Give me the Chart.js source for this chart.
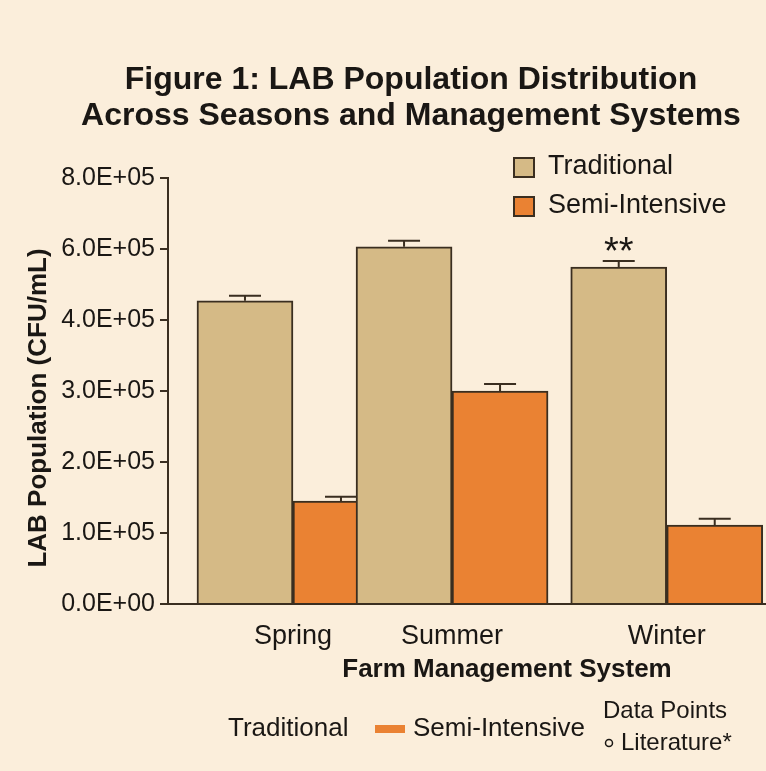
<!DOCTYPE html>
<html>
<head>
<meta charset="utf-8">
<script src="https://cdn.jsdelivr.net/npm/chart.js@4.4.1/dist/chart.umd.min.js"></script>
<style>
  html, body { margin: 0; padding: 0; background: #fbeedb; }
  canvas { display: block; }
</style>
</head>
<body>
<canvas id="labChart" width="766" height="771"></canvas>
<script>
const seasons = ['Spring', 'Summer', 'Winter'];
const traditional = [4.54e5, 6.06e5, 5.49e5];
const traditionalErr = [1.4e4, 1.7e4, 1.7e4];
const semiIntensive = [1.45e5, 3.00e5, 1.11e5];
const semiIntensiveErr = [6e3, 1.0e4, 9e3];
const traditionalMarks = ['', '', '**'];

// the source axis is unevenly labelled: equal steps carry these values
const tickValues = [0, 1e5, 2e5, 3e5, 4e5, 6e5, 8e5];
const tickLabels = ['0.0E+00', '1.0E+05', '2.0E+05', '3.0E+05', '4.0E+05', '6.0E+05', '8.0E+05'];

// layout: where each season group sits on a 0-10 x axis, spaced as in the source
const groupPos = [2.09, 4.75, 8.34];

const BG = '#fbeedb';
const TAN = '#d5ba86';
const ORANGE = '#ea8233';
const EDGE = '#3a2e20';
const INK = '#1a1714';
const FONT = '"Liberation Sans", Arial, sans-serif';

// value -> position on the step axis
function toAxis(v) {
    for (let i = 0; i < tickValues.length - 1; i++) {
        if (v <= tickValues[i + 1]) {
            return i + (v - tickValues[i]) / (tickValues[i + 1] - tickValues[i]);
        }
    }
    return tickValues.length - 1;
}

function barData(values) {
    return values.map((v, i) => ({ x: groupPos[i], y: toAxis(v) }));
}

const errorBars = {
    id: 'errorBars',
    afterDatasetsDraw(chart) {
        const ctx = chart.ctx;
        const yScale = chart.scales.y;
        chart.data.datasets.forEach((ds, di) => {
            chart.getDatasetMeta(di).data.forEach((bar, i) => {
                const top = yScale.getPixelForValue(toAxis(ds.values[i] + ds.errors[i]));
                ctx.save();
                ctx.strokeStyle = EDGE;
                ctx.lineWidth = 2;
                ctx.beginPath();
                ctx.moveTo(bar.x, bar.y);
                ctx.lineTo(bar.x, top);
                ctx.moveTo(bar.x - 16, top);
                ctx.lineTo(bar.x + 16, top);
                ctx.stroke();
                if (ds.marks && ds.marks[i]) {
                    ctx.fillStyle = INK;
                    ctx.font = '38px ' + FONT;
                    ctx.textAlign = 'center';
                    ctx.textBaseline = 'alphabetic';
                    ctx.fillText(ds.marks[i], bar.x, top + 3);
                }
                ctx.restore();
            });
        });
    }
};

function text(ctx, str, x, y, size, bold, align) {
    ctx.font = (bold ? 'bold ' : '') + size + 'px ' + FONT;
    ctx.textAlign = align || 'left';
    ctx.textBaseline = 'middle';
    ctx.fillText(str, x, y);
}

const decorations = {
    id: 'decorations',
    beforeDraw(chart) {
        const ctx = chart.ctx;
        ctx.save();
        ctx.fillStyle = BG;
        ctx.fillRect(0, 0, chart.width, chart.height);
        ctx.restore();
    },
    afterDraw(chart) {
        const ctx = chart.ctx;
        const sets = chart.data.datasets;
        ctx.save();
        ctx.fillStyle = INK;

        // title
        text(ctx, 'Figure 1: LAB Population Distribution', 411, 80, 32, true, 'center');
        text(ctx, 'Across Seasons and Management Systems', 411, 116, 32, true, 'center');

        // axis titles
        text(ctx, 'Farm Management System', 507, 670, 26, true, 'center');
        ctx.save();
        ctx.translate(39, 408);
        ctx.rotate(-Math.PI / 2);
        text(ctx, 'LAB Population (CFU/mL)', 0, 0, 26, true, 'center');
        ctx.restore();

        // legend inside the plot
        sets.forEach((ds, i) => {
            const y = 167 + i * 39;
            ctx.fillStyle = ds.backgroundColor;
            ctx.fillRect(514, y - 9, 20, 19);
            ctx.strokeStyle = EDGE;
            ctx.lineWidth = 2;
            ctx.strokeRect(514, y - 9, 20, 19);
            ctx.fillStyle = INK;
            text(ctx, ds.label, 548, y, 27, false);
        });

        // second legend under the axis title
        ctx.fillStyle = INK;
        text(ctx, sets[0].label, 228, 729, 26, false);
        ctx.fillStyle = sets[1].backgroundColor;
        ctx.fillRect(375, 725, 30, 8);
        ctx.fillStyle = INK;
        text(ctx, sets[1].label, 413, 729, 26, false);
        text(ctx, 'Data Points', 603, 711, 24, false);
        ctx.strokeStyle = INK;
        ctx.lineWidth = 1.5;
        ctx.beginPath();
        ctx.arc(609, 743, 3.5, 0, Math.PI * 2);
        ctx.stroke();
        text(ctx, 'Literature*', 621, 743, 24, false);
        ctx.restore();
    }
};

new Chart(document.getElementById('labChart'), {
    type: 'bar',
    data: {
        datasets: [
            {
                label: 'Traditional',
                data: barData(traditional),
                values: traditional,
                errors: traditionalErr,
                marks: traditionalMarks,
                backgroundColor: TAN,
                borderColor: EDGE,
                borderWidth: 2,
                barThickness: 96
            },
            {
                label: 'Semi-Intensive',
                data: barData(semiIntensive),
                values: semiIntensive,
                errors: semiIntensiveErr,
                backgroundColor: ORANGE,
                borderColor: EDGE,
                borderWidth: 2,
                barThickness: 96
            }
        ]
    },
    options: {
        responsive: false,
        animation: false,
        layout: { padding: { top: 178, left: 0, right: 0, bottom: 0 } },
        plugins: {
            legend: { display: false },
            title: { display: false },
            tooltip: { enabled: false }
        },
        scales: {
            x: {
                type: 'linear',
                min: 0,
                max: 10,
                offset: false,
                afterBuildTicks: scale => {
                    scale.ticks = groupPos.map(v => ({ value: v }));
                },
                afterFit: scale => { scale.height = 167; },
                ticks: {
                    callback: (v, i) => seasons[i],
                    autoSkip: false,
                    maxRotation: 0,
                    padding: 8,
                    color: INK,
                    font: { size: 27, family: FONT }
                },
                grid: { display: false },
                border: { color: EDGE, width: 2 }
            },
            y: {
                min: 0,
                max: tickValues.length - 1,
                afterFit: scale => { scale.width = 168; },
                ticks: {
                    stepSize: 1,
                    callback: v => tickLabels[v],
                    padding: 5,
                    color: INK,
                    font: { size: 25, family: FONT }
                },
                grid: { drawOnChartArea: false, tickLength: 8, color: EDGE, lineWidth: 2 },
                border: { color: EDGE, width: 2 }
            }
        }
    },
    plugins: [errorBars, decorations]
});
</script>
</body>
</html>
